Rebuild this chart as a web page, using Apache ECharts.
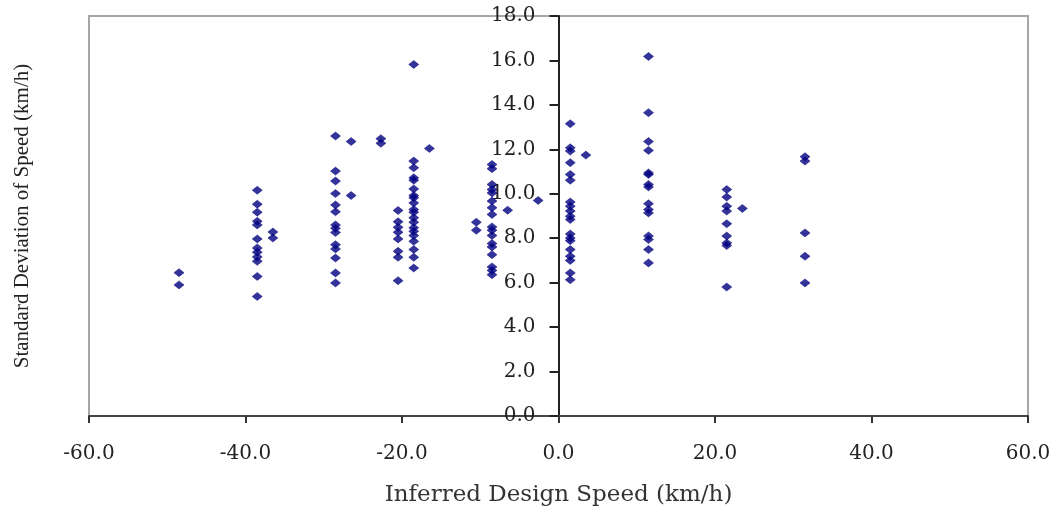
<!DOCTYPE html>
<html>
<head>
<meta charset="utf-8">
<script src="https://cdn.jsdelivr.net/npm/echarts@6/dist/echarts.min.js"></script>
<style>
html,body{margin:0;padding:0;background:#fff;}
#chart{width:1056px;height:508px;}
</style>
</head>
<body>
<div id="chart"></div>
<script>
// Inferred design speed (km/h) of each vertical group of points
const designSpeed = [-48.5, -38.5, -36.5, -28.5, -26.5, -22.7, -20.5, -18.5, -16.5, -10.5, -8.5, -6.5, -2.6, 1.5, 3.5, 11.5, 21.5, 23.5, 31.5];
// Standard deviation of speed (km/h) for each group
const stdDev = [
  [6.45, 5.9],
  [10.16, 9.53, 9.17, 8.76, 8.6, 7.97, 7.56, 7.37, 7.16, 6.96, 6.28, 5.38],
  [8.28, 8.01],
  [12.6, 11.02, 10.57, 10.01, 9.5, 9.19, 8.6, 8.45, 8.26, 7.71, 7.52, 7.11, 6.44, 5.99],
  [12.35, 9.92],
  [12.48, 12.27],
  [9.25, 8.74, 8.49, 8.27, 7.97, 7.41, 7.14, 6.09],
  [15.82, 11.47, 11.17, 10.72, 10.61, 10.22, 9.92, 9.82, 9.59, 9.29, 9.17, 8.92, 8.72, 8.47, 8.31, 8.12, 7.86, 7.49, 7.14, 6.66],
  [12.04],
  [8.72, 8.36],
  [11.32, 11.13, 10.42, 10.19, 10.04, 9.67, 9.37, 9.07, 8.51, 8.36, 8.12, 7.76, 7.61, 7.26, 6.71, 6.55, 6.36],
  [9.26],
  [9.7],
  [13.15, 12.07, 11.92, 11.4, 10.87, 10.61, 9.63, 9.44, 9.22, 8.99, 8.84, 8.19, 8.01, 7.89, 7.49, 7.19, 7.0, 6.44, 6.13],
  [11.74],
  [16.18, 13.65, 12.35, 11.95, 10.94, 10.87, 10.42, 10.31, 9.55, 9.29, 9.14, 8.1, 7.94, 7.49, 6.89],
  [10.19, 9.85, 9.44, 9.22, 8.65, 8.1, 7.79, 7.67, 5.8],
  [9.34],
  [11.67, 11.47, 8.24, 7.19, 5.99]
];
const xTitle = 'Inferred Design Speed (km/h)';
const yTitle = 'Standard Deviation of Speed (km/h)';

const points = [];
designSpeed.forEach((x, i) => stdDev[i].forEach(y => points.push([x, y])));

const gridLeft = 89, gridRight = 28;
const plotWidth = 1056 - gridLeft - gridRight;
const xMin = -60, xMax = 60;
// y axis drawn where x = 0
const yAxisOffset = -plotWidth * (0 - xMin) / (xMax - xMin);

const chart = echarts.init(document.getElementById('chart'));
const labelFont = {fontFamily: 'DejaVu Serif', fontSize: 20, color: '#222'};
chart.setOption({
  animation: false,
  grid: {left: gridLeft, right: gridRight, top: 16, bottom: 92, show: true, borderColor: '#a6a6a6', borderWidth: 2, backgroundColor: '#fff', outerBoundsMode: 'none', containLabel: false},
  xAxis: {
    type: 'value', min: xMin, max: xMax, interval: 20,
    axisLine: {show: true, onZero: false, lineStyle: {color: '#444', width: 2}},
    axisTick: {show: true, inside: false, length: 7, lineStyle: {color: '#333', width: 2}},
    splitLine: {show: false},
    axisLabel: Object.assign({margin: 28, formatter: v => v.toFixed(1)}, labelFont),
    name: xTitle, nameLocation: 'middle', nameGap: 68,
    nameTextStyle: {fontFamily: 'DejaVu Serif', fontSize: 23, color: '#333'}
  },
  yAxis: {
    type: 'value', min: 0, max: 18, interval: 2, position: 'left', offset: yAxisOffset,
    axisLine: {show: true, onZero: false, lineStyle: {color: '#222', width: 2}},
    axisTick: {show: true, inside: false, length: 9, lineStyle: {color: '#222', width: 2}},
    splitLine: {show: false},
    axisLabel: Object.assign({margin: 23, formatter: v => v.toFixed(1)}, labelFont)
  },
  graphic: [{
    type: 'text',
    rotation: Math.PI / 2,
    x: 22, y: 216,
    style: {text: yTitle, fontFamily: 'Liberation Serif', fontSize: 21, fill: '#222', align: 'center', verticalAlign: 'middle'}
  }],
  series: [{
    type: 'scatter', data: points, symbol: 'diamond', symbolSize: [10, 8],
    itemStyle: {color: '#000080', borderColor: '#000080', borderWidth: 0.6}, z: 5
  }]
});
</script>
</body>
</html>
